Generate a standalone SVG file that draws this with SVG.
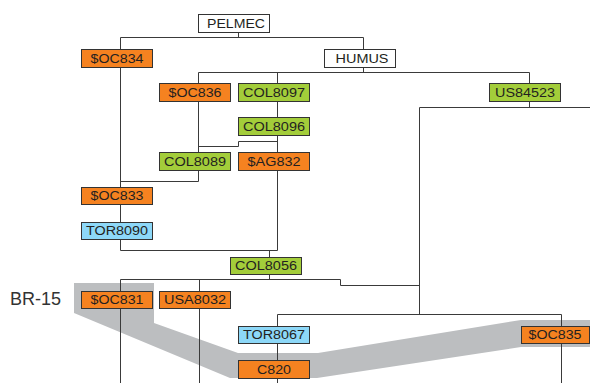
<svg xmlns="http://www.w3.org/2000/svg" width="590" height="383" viewBox="0 0 590 383">
  <style>
    .box { stroke: #333; stroke-width: 1; }
    .white { fill: #ffffff; }
    .orange { fill: #f58220; }
    .green { fill: #a3cd3a; }
    .blue { fill: #8dd8f8; }
    .lbl { font-family: "Liberation Sans", Arial, sans-serif; font-size: 12px; fill: #231f20; text-anchor: middle; }
    .wire { fill: none; stroke: #3a3a3a; stroke-width: 1; }
    .tag { font-family: "Liberation Sans", Arial, sans-serif; font-size: 18px; fill: #333; }
  </style>

  <!-- highlighted BR-15 band -->
  <polygon points="74,283 154,283 154,323 238,353 318,353 521,320 590,320 590,347 521,347 317,378 230,378 74,313" fill="#bcbec0"/>
  <text class="tag" x="10" y="305">BR-15</text>

  <g id="connectors">
    <path class="wire" d="M238.5 32V37.5M120.5 37.5H363.5M120.5 37.5V49M363.5 37.5V49"/>
    <path class="wire" d="M363.5 67V72.5M198.5 72.5H529.5M198.5 72.5V83M277.5 72.5V83M529.5 72.5V83"/>
    <path class="wire" d="M529.5 101V107.5M419.5 107.5H590M419.5 107.5V314"/>
    <path class="wire" d="M277.5 101V117M277.5 135V152M198.5 146.5H238.5V141.5H277.5M198.5 101V152"/>
    <path class="wire" d="M198.5 170V181.5H120.5M120.5 67V187M120.5 204V222"/>
    <path class="wire" d="M120.5 239V250.5H277.5M277.5 170V250.5M269.5 250.5V257"/>
    <path class="wire" d="M269.5 274V279.5M120.5 279.5H340.5V285.5H419.5M120.5 279.5V291M199.5 279.5V291"/>
    <path class="wire" d="M120.5 308V383M199.5 308V383"/>
    <path class="wire" d="M277.5 314.5H561.5M277.5 314.5V326M561.5 314.5V326"/>
    <path class="wire" d="M277.5 343V360M277.5 378V383M561.5 343V383"/>
  </g>

  <g id="PELMEC"><rect class="box white" x="198.5" y="14.5" width="71" height="18"/><text class="lbl" x="236" y="27.5" textLength="58" lengthAdjust="spacingAndGlyphs">PELMEC</text></g>
  <g id="OC834"><rect class="box orange" x="81.5" y="49.5" width="71" height="18"/><text class="lbl" x="117" y="62.5" textLength="53" lengthAdjust="spacingAndGlyphs">$OC834</text></g>
  <g id="HUMUS"><rect class="box white" x="324.5" y="49.5" width="71" height="18"/><text class="lbl" x="362" y="62.5" textLength="53" lengthAdjust="spacingAndGlyphs">HUMUS</text></g>
  <g id="OC836"><rect class="box orange" x="159.5" y="83.5" width="71" height="18"/><text class="lbl" x="195" y="96.5" textLength="53" lengthAdjust="spacingAndGlyphs">$OC836</text></g>
  <g id="COL8097"><rect class="box green" x="238.5" y="83.5" width="71" height="18"/><text class="lbl" x="274" y="96.5" textLength="62" lengthAdjust="spacingAndGlyphs">COL8097</text></g>
  <g id="US84523"><rect class="box green" x="489.5" y="83.5" width="71" height="18"/><text class="lbl" x="525" y="96.5" textLength="60" lengthAdjust="spacingAndGlyphs">US84523</text></g>
  <g id="COL8096"><rect class="box green" x="238.5" y="117.5" width="71" height="18"/><text class="lbl" x="274" y="130.5" textLength="62" lengthAdjust="spacingAndGlyphs">COL8096</text></g>
  <g id="COL8089"><rect class="box green" x="159.5" y="152.5" width="71" height="18"/><text class="lbl" x="195" y="165.5" textLength="62" lengthAdjust="spacingAndGlyphs">COL8089</text></g>
  <g id="AG832"><rect class="box orange" x="238.5" y="152.5" width="71" height="18"/><text class="lbl" x="274" y="165.5" textLength="53" lengthAdjust="spacingAndGlyphs">$AG832</text></g>
  <g id="OC833"><rect class="box orange" x="81.5" y="187.5" width="71" height="17"/><text class="lbl" x="117" y="200" textLength="53" lengthAdjust="spacingAndGlyphs">$OC833</text></g>
  <g id="TOR8090"><rect class="box blue" x="81.5" y="222.5" width="71" height="17"/><text class="lbl" x="117" y="235" textLength="62" lengthAdjust="spacingAndGlyphs">TOR8090</text></g>
  <g id="COL8056"><rect class="box green" x="230.5" y="257.5" width="71" height="17"/><text class="lbl" x="266" y="270" textLength="62" lengthAdjust="spacingAndGlyphs">COL8056</text></g>
  <g id="OC831"><rect class="box orange" x="81.5" y="291.5" width="71" height="17"/><text class="lbl" x="117" y="304" textLength="53" lengthAdjust="spacingAndGlyphs">$OC831</text></g>
  <g id="USA8032"><rect class="box orange" x="159.5" y="291.5" width="71" height="17"/><text class="lbl" x="195" y="304" textLength="62" lengthAdjust="spacingAndGlyphs">USA8032</text></g>
  <g id="TOR8067"><rect class="box blue" x="238.5" y="326.5" width="71" height="17"/><text class="lbl" x="274" y="339" textLength="62" lengthAdjust="spacingAndGlyphs">TOR8067</text></g>
  <g id="C820"><rect class="box orange" x="238.5" y="360.5" width="71" height="18"/><text class="lbl" x="274" y="373.5" textLength="34" lengthAdjust="spacingAndGlyphs">C820</text></g>
  <g id="OC835"><rect class="box orange" x="521.5" y="326.5" width="68" height="17"/><text class="lbl" x="555" y="339" textLength="53" lengthAdjust="spacingAndGlyphs">$OC835</text></g>
</svg>
